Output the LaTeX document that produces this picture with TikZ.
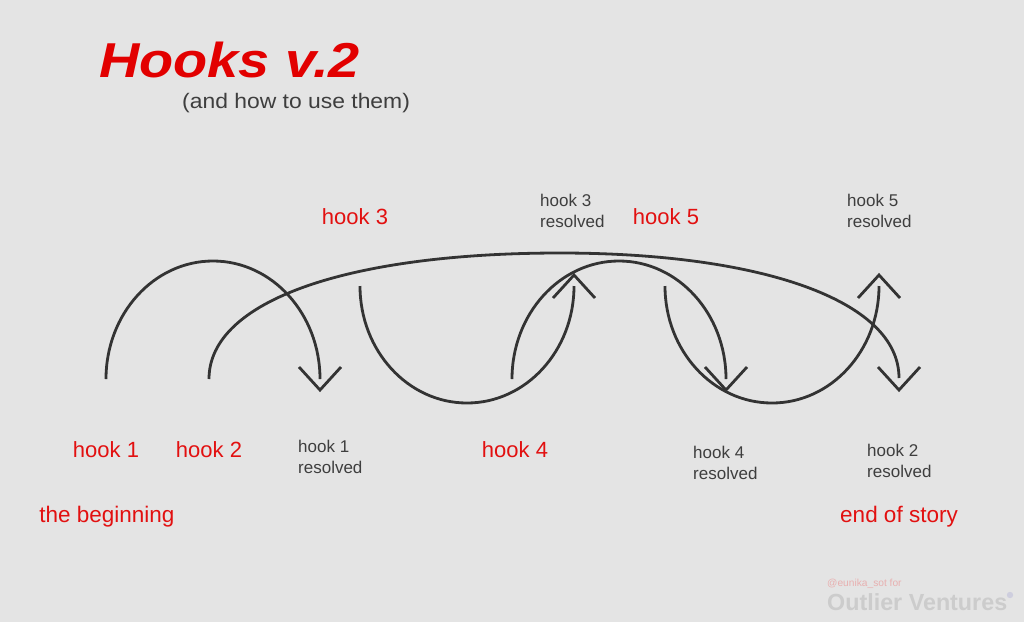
\documentclass[tikz,border=0pt]{standalone}
\usepackage{fontspec}
\usepackage{graphicx}
\setmainfont{Liberation Sans}
\usetikzlibrary{calc}
\definecolor{bg}{RGB}{228,228,228}
\definecolor{hred}{RGB}{226,0,0}
\definecolor{lred}{RGB}{226,16,16}
\definecolor{ink}{RGB}{51,51,51}
\definecolor{gtext}{RGB}{62,62,62}
\definecolor{wmpink}{RGB}{232,176,176}
\definecolor{wmgray}{RGB}{204,204,204}
\definecolor{wmdot}{RGB}{206,206,222}
\begin{document}
\begin{tikzpicture}[x=1pt,y=-1pt,
  hookline/.style={draw=ink, line width=2.8pt},
  redlabel/.style={text=lred, font=\fontsize{22}{26}\selectfont, inner sep=0pt, anchor=base},
  graylabel/.style={text=gtext, font=\fontsize{17}{21}\selectfont, inner sep=0pt, anchor=north west, align=left},
]
\fill[bg] (0,0) rectangle (1024,622);
\useasboundingbox (0,0) rectangle (1024,622);

% title
\node[text=hred, font=\fontsize{49}{49}\selectfont\bfseries\itshape, inner sep=0pt, anchor=base west] (title) at (99,77) {\scalebox{1.14}[1]{Hooks v.2}};
\node[text=gtext, font=\fontsize{21}{24}\selectfont, inner sep=0pt, anchor=base west] (sub) at (182,108) {\scalebox{1.09}[1]{(and how to use them)}};

% endpoints
\coordinate (s1) at (106,379);
\coordinate (s2) at (209,379);
\coordinate (s3) at (360,286);
\coordinate (s4) at (512,379);
\coordinate (s5) at (665,286);
\coordinate (top2) at (560,253);
\coordinate (e2) at (899,378);
\coordinate (t1) at (320,390);
\coordinate (t2) at (899,390);
\coordinate (t3) at (574,275);
\coordinate (t4) at (726,390);
\coordinate (t5) at (879,275);

% curves
\draw[hookline] (s1) arc[start angle=180, end angle=0, x radius=107pt, y radius=118pt];
\draw[hookline] (s2) .. controls (209,300) and (350,253) .. (top2)
                     .. controls (760,253) and (899,300) .. (e2);
\draw[hookline] (s3) arc[start angle=180, end angle=360, x radius=107pt, y radius=117pt];
\draw[hookline] (s4) arc[start angle=180, end angle=0, x radius=107pt, y radius=118pt];
\draw[hookline] (s5) arc[start angle=180, end angle=360, x radius=107pt, y radius=117pt];

% arrow heads
\foreach \t in {t1,t2,t4}
  \draw[hookline] ([shift={(-21,-23)}]\t) -- (\t) -- ([shift={(21,-23)}]\t);
\foreach \t in {t3,t5}
  \draw[hookline] ([shift={(-21,23)}]\t) -- (\t) -- ([shift={(21,23)}]\t);

% red labels
\node[redlabel] (h1) at (106,457) {hook 1};
\node[redlabel] (h2) at (209,457) {hook 2};
\node[redlabel] (h3) at (355,224) {hook 3};
\node[redlabel] (h4) at (515,457) {hook 4};
\node[redlabel] (h5) at (666,224) {hook 5};
\node[redlabel, font=\fontsize{22.5}{26}\selectfont] (beg) at (107,522) {the beginning};
\node[redlabel, font=\fontsize{22.5}{26}\selectfont] (end) at (899,522) {end of story};

% resolved labels
\node[graylabel] (r1) at (298,439.5) {hook 1\\resolved};
\node[graylabel] (r3) at (540,193.5) {hook 3\\resolved};
\node[graylabel] (r5) at (847,193.5) {hook 5\\resolved};
\node[graylabel] (r4) at (693,445.5) {hook 4\\resolved};
\node[graylabel] (r2) at (867,443.5) {hook 2\\resolved};

% watermark
\node[text=wmpink, font=\fontsize{10.2}{12}\selectfont, inner sep=0pt, anchor=base west] (wm1) at (827,586) {@eunika\_sot for};
\node[text=wmgray, font=\fontsize{23.3}{26}\selectfont\bfseries, inner sep=0pt, anchor=base west] (wm2) at (827,610) {Outlier Ventures};
\fill[wmdot] (1010,595) circle[radius=3.2pt];
\end{tikzpicture}
\end{document}
